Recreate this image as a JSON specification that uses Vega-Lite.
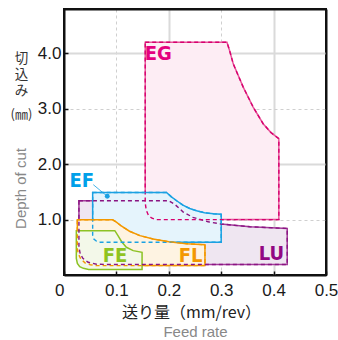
{
  "$schema": "https://vega.github.io/schema/vega-lite/v6.json",
  "width": 262,
  "height": 266,
  "autosize": "none",
  "padding": {"left": 64, "top": 9, "right": 12, "bottom": 65},
  "config": {"view": {"stroke": "#111", "strokeWidth": 2}},
  "datasets": {
    "regions": [
      {"s": "LU", "x": 0.0285, "y": 1.34, "y2": 0.5},
      {"s": "LU", "x": 0.031, "y": 1.34, "y2": 0.38},
      {"s": "LU", "x": 0.036, "y": 1.34, "y2": 0.3},
      {"s": "LU", "x": 0.046, "y": 1.34, "y2": 0.23},
      {"s": "LU", "x": 0.062, "y": 1.34, "y2": 0.195},
      {"s": "LU", "x": 0.08, "y": 1.34, "y2": 0.19},
      {"s": "LU", "x": 0.2, "y": 1.34, "y2": 0.19},
      {"s": "LU", "x": 0.212, "y": 1.27, "y2": 0.19},
      {"s": "LU", "x": 0.227, "y": 1.14, "y2": 0.19},
      {"s": "LU", "x": 0.246, "y": 1.04, "y2": 0.19},
      {"s": "LU", "x": 0.275, "y": 0.96, "y2": 0.19},
      {"s": "LU", "x": 0.3, "y": 0.92, "y2": 0.19},
      {"s": "LU", "x": 0.355, "y": 0.87, "y2": 0.19},
      {"s": "LU", "x": 0.426, "y": 0.84, "y2": 0.19},
      {"s": "EG", "x": 0.155, "y": 4.2, "y2": 1.3},
      {"s": "EG", "x": 0.157, "y": 4.2, "y2": 1.17},
      {"s": "EG", "x": 0.161, "y": 4.2, "y2": 1.08},
      {"s": "EG", "x": 0.167, "y": 4.2, "y2": 1.03},
      {"s": "EG", "x": 0.175, "y": 4.2, "y2": 1.0},
      {"s": "EG", "x": 0.311, "y": 4.2, "y2": 1.0},
      {"s": "EG", "x": 0.316, "y": 4.05, "y2": 1.0},
      {"s": "EG", "x": 0.323, "y": 3.81, "y2": 1.0},
      {"s": "EG", "x": 0.342, "y": 3.39, "y2": 1.0},
      {"s": "EG", "x": 0.361, "y": 3.03, "y2": 1.0},
      {"s": "EG", "x": 0.38, "y": 2.73, "y2": 1.0},
      {"s": "EG", "x": 0.395, "y": 2.57, "y2": 1.0},
      {"s": "EG", "x": 0.41, "y": 2.46, "y2": 1.0},
      {"s": "EF", "x": 0.0547, "y": 1.49, "y2": 0.72},
      {"s": "EF", "x": 0.057, "y": 1.49, "y2": 0.65},
      {"s": "EF", "x": 0.062, "y": 1.49, "y2": 0.61},
      {"s": "EF", "x": 0.07, "y": 1.49, "y2": 0.59},
      {"s": "EF", "x": 0.1956, "y": 1.49, "y2": 0.59},
      {"s": "EF", "x": 0.205, "y": 1.41, "y2": 0.59},
      {"s": "EF", "x": 0.215, "y": 1.34, "y2": 0.59},
      {"s": "EF", "x": 0.227, "y": 1.26, "y2": 0.59},
      {"s": "EF", "x": 0.24, "y": 1.2, "y2": 0.59},
      {"s": "EF", "x": 0.253, "y": 1.16, "y2": 0.59},
      {"s": "EF", "x": 0.268, "y": 1.125, "y2": 0.59},
      {"s": "EF", "x": 0.285, "y": 1.105, "y2": 0.59},
      {"s": "EF", "x": 0.3, "y": 1.095, "y2": 0.59},
      {"s": "FL", "x": 0.0254, "y": 0.995, "y2": 0.47},
      {"s": "FL", "x": 0.0275, "y": 0.995, "y2": 0.38},
      {"s": "FL", "x": 0.032, "y": 0.995, "y2": 0.29},
      {"s": "FL", "x": 0.04, "y": 0.995, "y2": 0.22},
      {"s": "FL", "x": 0.05, "y": 0.995, "y2": 0.185},
      {"s": "FL", "x": 0.062, "y": 0.995, "y2": 0.17},
      {"s": "FL", "x": 0.093, "y": 0.995, "y2": 0.17},
      {"s": "FL", "x": 0.1, "y": 0.955, "y2": 0.17},
      {"s": "FL", "x": 0.11, "y": 0.88, "y2": 0.17},
      {"s": "FL", "x": 0.125, "y": 0.79, "y2": 0.17},
      {"s": "FL", "x": 0.145, "y": 0.71, "y2": 0.17},
      {"s": "FL", "x": 0.17, "y": 0.65, "y2": 0.17},
      {"s": "FL", "x": 0.2, "y": 0.6, "y2": 0.17},
      {"s": "FL", "x": 0.234, "y": 0.565, "y2": 0.17},
      {"s": "FL", "x": 0.269, "y": 0.545, "y2": 0.17},
      {"s": "FE", "x": 0.0235, "y": 0.8, "y2": 0.3},
      {"s": "FE", "x": 0.0255, "y": 0.8, "y2": 0.21},
      {"s": "FE", "x": 0.03, "y": 0.8, "y2": 0.15},
      {"s": "FE", "x": 0.037, "y": 0.8, "y2": 0.12},
      {"s": "FE", "x": 0.047, "y": 0.8, "y2": 0.1},
      {"s": "FE", "x": 0.097, "y": 0.8, "y2": 0.1},
      {"s": "FE", "x": 0.103, "y": 0.71, "y2": 0.1},
      {"s": "FE", "x": 0.11, "y": 0.6, "y2": 0.1},
      {"s": "FE", "x": 0.119, "y": 0.5, "y2": 0.1},
      {"s": "FE", "x": 0.132, "y": 0.44, "y2": 0.1},
      {"s": "FE", "x": 0.149, "y": 0.41, "y2": 0.1}
    ],
    "labels": [
      {"t": "EG", "x": 0.18, "y": 3.98},
      {"t": "EF", "x": 0.0338, "y": 1.7},
      {"t": "FE", "x": 0.0973, "y": 0.35},
      {"t": "FL", "x": 0.2418, "y": 0.35},
      {"t": "LU", "x": 0.396, "y": 0.38}
    ],
    "leader": [{"x": 0.0559, "y": 1.63, "x2": 0.0826, "y2": 1.42}],
    "dot": [{"x": 0.0826, "y": 1.42}]
  },
  "encoding": {
    "x": {"field": "x", "type": "quantitative", "scale": {"domain": [0, 0.5], "nice": false}, "axis": null},
    "y": {"field": "y", "type": "quantitative", "stack": null, "scale": {"domain": [0, 4.8], "nice": false}, "axis": null}
  },
  "layer": [
    {
      "data": {"name": "regions"},
      "transform": [{"filter": "datum.s == 'LU'"}],
      "mark": {"type": "area", "fill": "#efe6f1", "stroke": "#a33d9a", "strokeWidth": 1.5},
      "encoding": {
        "x": {
          "field": "x", "type": "quantitative", "scale": {"domain": [0, 0.5], "nice": false},
          "axis": {
            "orient": "bottom",
            "values": [0, 0.1, 0.2, 0.3, 0.4, 0.5],
            "labelExpr": "datum.value == 0 ? '0' : format(datum.value, '.1f')",
            "labelAlign": {"condition": {"test": "datum.value == 0", "value": "right"}, "value": "center"},
            "labelFont": "Liberation Sans", "labelFontSize": 17, "labelColor": "#1a1a1a",
            "labelPadding": 11.5, "labelOverlap": false, "labelFlush": false,
            "tickSize": -4, "tickColor": "#111", "tickWidth": 1.5,
            "domainColor": "#111", "domainWidth": 2,
            "grid": true,
            "gridOpacity": {"condition": {"test": "datum.value == 0 || datum.value == 0.5", "value": 0}, "value": 1},
            "gridColor": {"condition": {"test": "datum.value == 0.1 || datum.value == 0.3", "value": "#cfcfcf"}, "value": "#dadada"},
            "gridDash": {"condition": {"test": "datum.value == 0.1 || datum.value == 0.3", "value": [3, 3]}, "value": []},
            "gridWidth": {"condition": {"test": "datum.value == 0.1 || datum.value == 0.3", "value": 1}, "value": 2},
            "title": "送り量（mm/rev）",
            "titleFont": "Noto Sans CJK JP", "titleFontSize": 16, "titleFontWeight": "normal", "titleColor": "#222",
            "titleX": 127, "titleY": 37, "titleAlign": "center", "titleBaseline": "middle"
          }
        },
        "y": {
          "field": "y", "type": "quantitative", "stack": null, "scale": {"domain": [0, 4.8], "nice": false},
          "axis": {
            "orient": "left",
            "values": [1, 2, 3, 4],
            "format": ".1f",
            "labelFont": "Liberation Sans", "labelFontSize": 17, "labelColor": "#1a1a1a",
            "labelPadding": 7, "labelOverlap": false,
            "tickSize": -4, "tickColor": "#111", "tickWidth": 1.5,
            "domainColor": "#111", "domainWidth": 2,
            "grid": true,
            "gridColor": {"condition": {"test": "datum.value == 1 || datum.value == 3", "value": "#cfcfcf"}, "value": "#dadada"},
            "gridDash": {"condition": {"test": "datum.value == 1 || datum.value == 3", "value": [3, 3]}, "value": []},
            "gridWidth": {"condition": {"test": "datum.value == 1 || datum.value == 3", "value": 1}, "value": 2},
            "title": "Depth of cut",
            "titleFont": "Liberation Sans", "titleFontSize": 15, "titleFontWeight": "normal", "titleColor": "#888",
            "titleAngle": 270, "titleX": -44, "titleY": 179, "titleAlign": "center", "titleBaseline": "middle"
          }
        },
        "y2": {"field": "y2"}
      }
    },
    {
      "data": {"name": "regions"},
      "transform": [{"filter": "datum.s == 'EG'"}],
      "mark": {"type": "area", "fill": "#fdedf4", "stroke": "#e8559a", "strokeWidth": 1.5},
      "encoding": {"y2": {"field": "y2"}}
    },
    {
      "data": {"name": "regions"},
      "transform": [{"filter": "datum.s == 'EF'"}],
      "mark": {"type": "area", "fill": "#e5f4fc", "stroke": "#1ba1e2", "strokeWidth": 1.5},
      "encoding": {"y2": {"field": "y2"}}
    },
    {
      "data": {"name": "regions"},
      "transform": [{"filter": "datum.s == 'FL'"}],
      "mark": {"type": "area", "fill": "#fef3e2", "stroke": "#f39800", "strokeWidth": 1.5},
      "encoding": {"y2": {"field": "y2"}}
    },
    {
      "data": {"name": "regions"},
      "transform": [{"filter": "datum.s == 'FE'"}],
      "mark": {"type": "area", "fill": "#f3f8e9", "stroke": "#8cc224", "strokeWidth": 1.5},
      "encoding": {"y2": {"field": "y2"}}
    },
    {
      "data": {"name": "regions"},
      "transform": [{"filter": "datum.s != 'FE'"}],
      "mark": {"type": "area", "fill": "transparent", "fillOpacity": 0, "strokeDash": [4, 3], "strokeWidth": 1.4},
      "encoding": {
        "y2": {"field": "y2"},
        "stroke": {
          "field": "s", "type": "nominal", "legend": null,
          "scale": {"domain": ["LU", "EG", "EF", "FL"], "range": ["#8a1482", "#d6006e", "#1ba1e2", "#f39800"]}
        }
      }
    },
    {
      "data": {"name": "leader"},
      "mark": {"type": "rule", "stroke": "#1ba1e2", "strokeWidth": 0.8},
      "encoding": {
        "x": {
          "field": "x", "type": "quantitative", "scale": {"domain": [0, 0.5], "nice": false},
          "axis": {"orient": "top", "labels": false, "ticks": false, "grid": false, "title": null, "domain": true, "domainColor": "#111", "domainWidth": 2}
        },
        "y": {
          "field": "y", "type": "quantitative", "scale": {"domain": [0, 4.8], "nice": false},
          "axis": {"orient": "right", "labels": false, "ticks": false, "grid": false, "title": null, "domain": true, "domainColor": "#111", "domainWidth": 2}
        },
        "x2": {"field": "x2"},
        "y2": {"field": "y2"}
      }
    },
    {
      "data": {"name": "dot"},
      "mark": {"type": "point", "filled": true, "fill": "#1ba1e2", "opacity": 1, "size": 24, "strokeWidth": 0},
      "encoding": {
        "y": {
          "field": "y", "type": "quantitative", "scale": {"domain": [0, 4.8], "nice": false},
          "axis": {
            "orient": "left", "labels": false, "ticks": false, "domain": false, "grid": false,
            "title": "(㎜)",
            "titleFont": "Noto Sans CJK JP", "titleFontSize": 13, "titleFontWeight": "normal", "titleColor": "#333",
            "titleAngle": 0, "titleX": -43, "titleY": 105, "titleAlign": "center", "titleBaseline": "middle"
          }
        }
      }
    },
    {
      "data": {"name": "labels"},
      "mark": {"type": "text", "font": "Liberation Sans Narrow, DejaVu Sans Condensed, sans-serif", "fontWeight": "bold", "fontSize": 20, "baseline": "middle", "align": "center"},
      "encoding": {
        "x": {
          "field": "x", "type": "quantitative", "scale": {"domain": [0, 0.5], "nice": false},
          "axis": {
            "orient": "bottom", "labels": false, "ticks": false, "domain": false, "grid": false,
            "title": "Feed rate",
            "titleFont": "Liberation Sans", "titleFontSize": 15, "titleFontWeight": "normal", "titleColor": "#888",
            "titleX": 131, "titleY": 56.5, "titleAlign": "center", "titleBaseline": "middle"
          }
        },
        "y": {
          "field": "y", "type": "quantitative", "scale": {"domain": [0, 4.8], "nice": false},
          "axis": {
            "orient": "left", "labels": false, "ticks": false, "domain": false, "grid": false,
            "title": ["切", "込", "み"],
            "titleFont": "Noto Sans CJK JP", "titleFontSize": 13.5, "titleFontWeight": "normal", "titleColor": "#333",
            "titleLineHeight": 16,
            "titleAngle": 0, "titleX": -43, "titleY": 42, "titleAlign": "center", "titleBaseline": "top"
          }
        },
        "text": {"field": "t", "type": "nominal"},
        "color": {
          "field": "t", "type": "nominal", "legend": null,
          "scale": {"domain": ["EG", "EF", "FE", "FL", "LU"], "range": ["#e4007f", "#00a0e9", "#8fc31f", "#f39800", "#920783"]}
        }
      }
    }
  ],
  "resolve": {"axis": {"x": "independent", "y": "independent"}}
}
